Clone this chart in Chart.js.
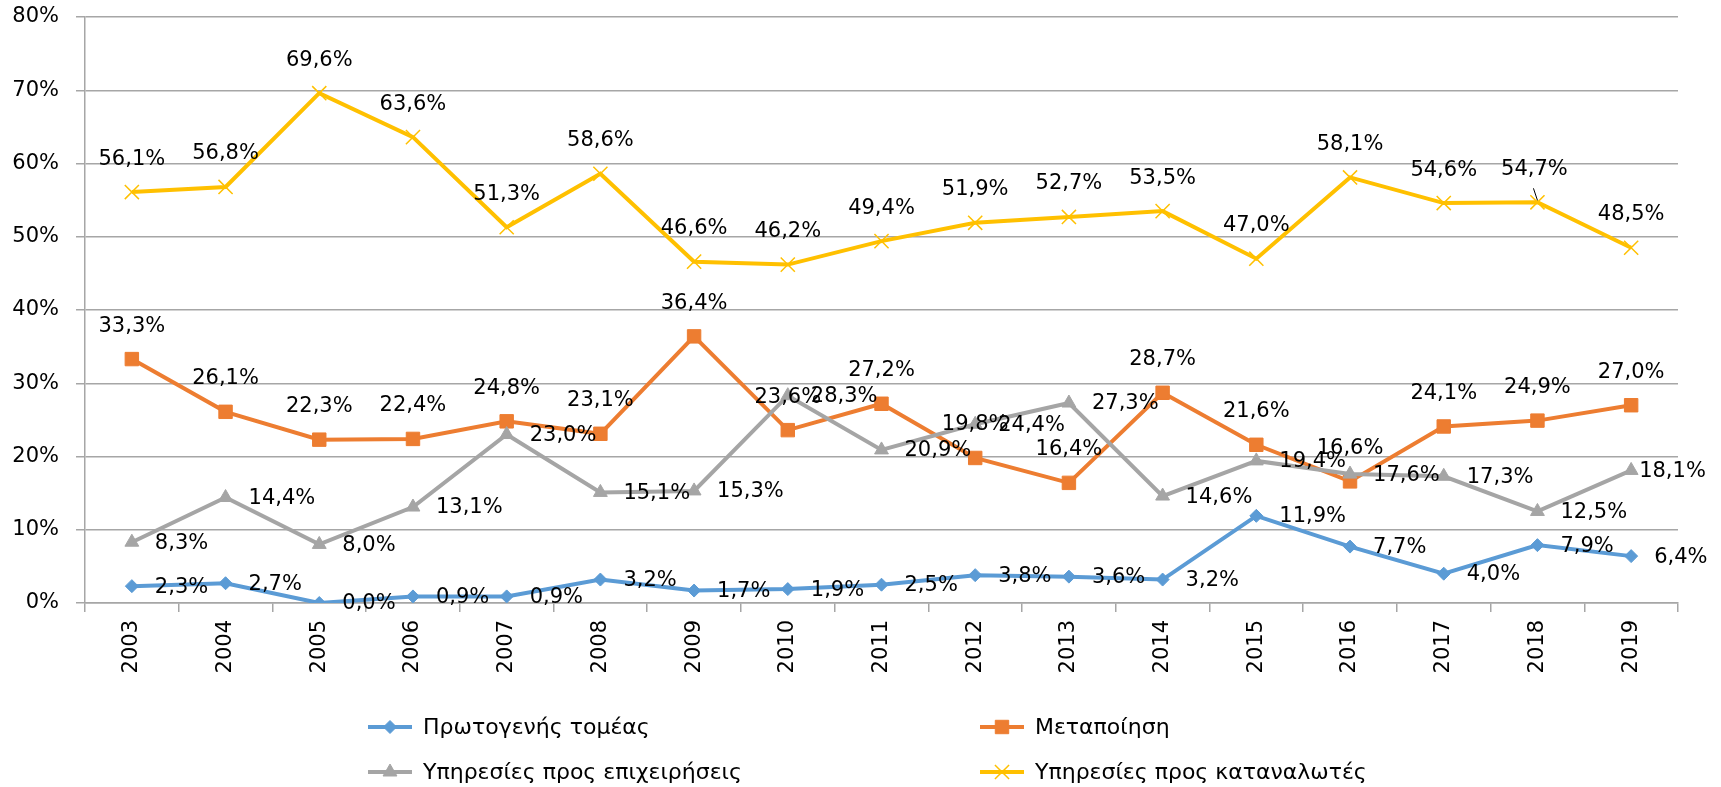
<!DOCTYPE html>
<html>
<head>
<meta charset="utf-8">
<title>Chart</title>
<script src="https://cdn.jsdelivr.net/npm/chart.js@4"></script>
<style>
  body { margin: 0; background: #fff; }
  .chart_box { width: 1721px; height: 787px; }
</style>
</head>
<body>
<div class="chart_box"><canvas id="chart"></canvas></div>
<script>
const years = ['2003', '2004', '2005', '2006', '2007', '2008', '2009', '2010', '2011', '2012', '2013', '2014', '2015', '2016', '2017', '2018', '2019']

const primary = [2.3, 2.7, 0.0, 0.9, 0.9, 3.2, 1.7, 1.9, 2.5, 3.8, 3.6, 3.2, 11.9, 7.7, 4.0, 7.9, 6.4]
const manufacturing = [33.3, 26.1, 22.3, 22.4, 24.8, 23.1, 36.4, 23.6, 27.2, 19.8, 16.4, 28.7, 21.6, 16.6, 24.1, 24.9, 27.0]
const business_services = [8.3, 14.4, 8.0, 13.1, 23.0, 15.1, 15.3, 28.3, 20.9, 24.4, 27.3, 14.6, 19.4, 17.6, 17.3, 12.5, 18.1]
const consumer_services = [56.1, 56.8, 69.6, 63.6, 51.3, 58.6, 46.6, 46.2, 49.4, 51.9, 52.7, 53.5, 47.0, 58.1, 54.6, 54.7, 48.5]

const series_names = ['Πρωτογενής τομέας', 'Μεταποίηση', 'Υπηρεσίες προς επιχειρήσεις', 'Υπηρεσίες προς καταναλωτές']
const y_min = 0
const y_max = 80
const y_step = 10

const font_name = '"DejaVu Sans", sans-serif'
const grid_color = '#a6a6a6'

// where each series puts its value labels (like excel: right / above)
const label_side = ['right', 'above', 'right', 'above']
// a few labels that excel nudged
const label_shift = {
  '2-16': [-15, 0],
  '3-15': [-3, 0]
}

function pct(v) {
  return v.toFixed(1).replace('.', ',') + '%'
}

const datasets = [
  {
    label: series_names[0],
    data: primary,
    borderColor: '#5b9bd5',
    backgroundColor: '#5b9bd5',
    pointStyle: 'rectRot',
    pointRadius: 6.5,
    order: 4
  },
  {
    label: series_names[1],
    data: manufacturing,
    borderColor: '#ed7d31',
    backgroundColor: '#ed7d31',
    pointStyle: 'rect',
    pointRadius: 9.5,
    order: 3
  },
  {
    label: series_names[2],
    data: business_services,
    borderColor: '#a5a5a5',
    backgroundColor: '#a5a5a5',
    pointStyle: 'triangle',
    pointRadius: 8,
    order: 2
  },
  {
    label: series_names[3],
    data: consumer_services,
    borderColor: '#ffc000',
    backgroundColor: '#ffc000',
    pointStyle: 'crossRot',
    pointRadius: 10,
    pointBorderWidth: 1.5,
    order: 1
  }
]

datasets.forEach(ds => {
  ds.borderWidth = 4
  ds.tension = 0
  ds.fill = false
  if (ds.pointBorderWidth == undefined) ds.pointBorderWidth = 1
  ds.pointBackgroundColor = ds.backgroundColor
  ds.pointBorderColor = ds.borderColor
})

const pointLabels = {
  id: 'pointLabels',
  afterDatasetsDraw(chart) {
    const ctx = chart.ctx
    ctx.save()
    ctx.font = '21px ' + font_name
    ctx.fillStyle = '#000'
    ctx.strokeStyle = '#000'
    ctx.lineWidth = 1
    ctx.textBaseline = 'middle'
    chart.data.datasets.forEach((ds, i) => {
      const meta = chart.getDatasetMeta(i)
      meta.data.forEach((pt, j) => {
        const text = pct(ds.data[j])
        const shift = label_shift[i + '-' + j] || [0, 0]
        if (label_side[i] == 'right') {
          ctx.textAlign = 'left'
          ctx.fillText(text, pt.x + 23 + shift[0], pt.y + 1 + shift[1])
        } else {
          ctx.textAlign = 'center'
          ctx.fillText(text, pt.x + shift[0], pt.y - 33 + shift[1])
          if (shift[0] != 0) {
            // leader line
            ctx.beginPath()
            ctx.moveTo(pt.x - 4, pt.y - 14)
            ctx.lineTo(pt.x, pt.y - 2)
            ctx.stroke()
          }
        }
      })
    })
    ctx.restore()
  }
}

const gridLegend = {
  id: 'gridLegend',
  afterDraw(chart) {
    const ctx = chart.ctx
    const cols = [368, 980]
    const rows = [727, 772]
    ctx.save()
    ctx.font = '22px ' + font_name
    ctx.textAlign = 'left'
    ctx.textBaseline = 'middle'
    chart.data.datasets.forEach((ds, i) => {
      const x = cols[i % 2]
      const y = rows[Math.floor(i / 2)]
      ctx.strokeStyle = ds.borderColor
      ctx.lineWidth = 4
      ctx.beginPath()
      ctx.moveTo(x, y)
      ctx.lineTo(x + 44, y)
      ctx.stroke()
      ctx.fillStyle = ds.backgroundColor
      ctx.lineWidth = ds.pointBorderWidth
      Chart.helpers.drawPoint(ctx, {
        pointStyle: ds.pointStyle,
        radius: ds.pointRadius,
        rotation: 0,
        borderWidth: ds.pointBorderWidth
      }, x + 22, y)
      ctx.fillStyle = '#000'
      ctx.fillText(ds.label, x + 55, y + 1)
    })
    ctx.restore()
  }
}

const ctx = document.getElementById('chart').getContext('2d')
const myChart = new Chart(ctx, {
  type: 'line',
  data: {
    labels: years,
    datasets: datasets
  },
  options: {
    responsive: true,
    maintainAspectRatio: false,
    animation: false,
    layout: {
      padding: { top: 17, right: 43, left: 0, bottom: 0 }
    },
    plugins: {
      legend: { display: false },
      tooltip: { enabled: false }
    },
    scales: {
      x: {
        offset: true,
        grid: {
          offset: true,
          drawOnChartArea: false,
          drawTicks: true,
          tickLength: 9,
          color: grid_color,
          lineWidth: 1.5
        },
        border: { color: grid_color, width: 1.5 },
        ticks: {
          autoSkip: false,
          maxRotation: 90,
          minRotation: 90,
          padding: 8,
          color: '#000',
          font: { family: font_name, size: 21 }
        },
        afterFit(scale) {
          scale.height = 184
          scale.paddingLeft = 0
          scale.paddingRight = 0
        }
      },
      y: {
        min: y_min,
        max: y_max,
        grid: {
          color: grid_color,
          lineWidth: 1.5,
          tickLength: 9
        },
        border: { color: grid_color, width: 1.5 },
        ticks: {
          stepSize: y_step,
          padding: 17,
          color: '#000',
          font: { family: font_name, size: 21 },
          callback: v => v + '%'
        },
        afterFit(scale) {
          scale.width = 85
          scale.paddingTop = 0
          scale.paddingBottom = 0
        }
      }
    }
  },
  plugins: [pointLabels, gridLegend]
})
</script>
</body>
</html>
